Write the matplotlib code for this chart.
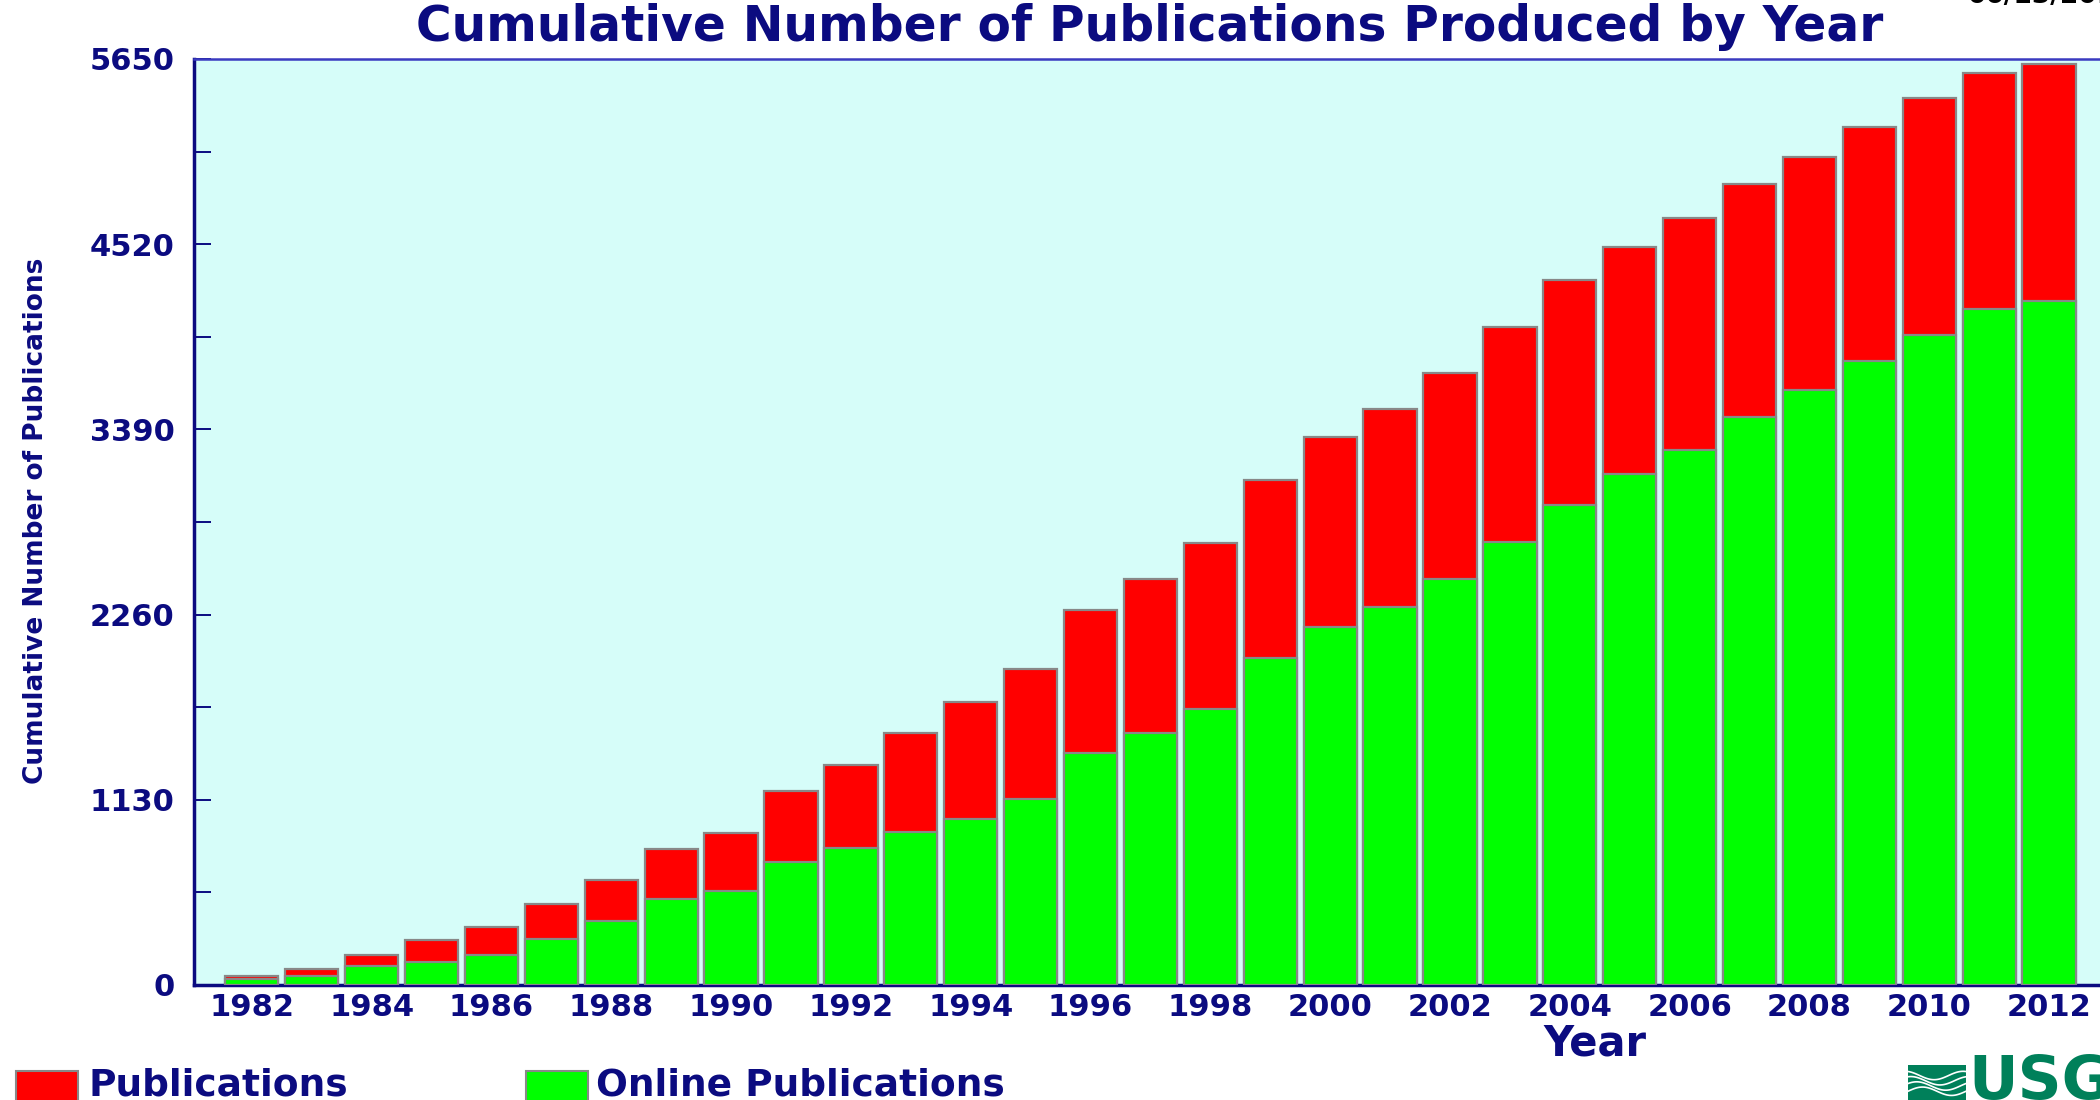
import matplotlib
matplotlib.use("Agg")
import matplotlib.pyplot as plt
import numpy as np
from matplotlib.patches import Rectangle

years = list(range(1982, 2013))
publications = [55, 95, 185, 272, 356, 495, 640, 830, 928, 1186, 1341, 1537, 1725, 1930,
                2289, 2478, 2698, 3083, 3344, 3516, 3737, 4015, 4301, 4505, 4677, 4890,
                5053, 5233, 5410, 5565, 5618]
online = [35, 55, 118, 143, 185, 280, 390, 527, 574, 752, 834, 932, 1014, 1137,
          1415, 1537, 1684, 1995, 2183, 2306, 2478, 2706, 2927, 3115, 3262, 3467,
          3630, 3810, 3966, 4125, 4175]
yticks = [0, 1130, 2260, 3390, 4520, 5650]
xtick_years = list(range(1982, 2013, 2))

NAVY = "#0b0b80"
W, H = 2100, 1100
fig = plt.figure(figsize=(21, 11), dpi=100)
fig.patch.set_facecolor("white")

ax_l, ax_r, ax_b, ax_t = 194, 2120, 985, 59
ax = fig.add_axes([ax_l / W, 1 - ax_b / H, (ax_r - ax_l) / W, (ax_b - ax_t) / H])
ax.set_facecolor("#d6fdf9")

spacing = 59.91
x0 = 1982 - (251.8 - ax_l) / spacing
x1 = 1982 + (ax_r - 251.8) / spacing
ax.set_xlim(x0, x1)
ax.set_ylim(0, 5650)

ax.bar(years, publications, width=0.89, color="#ff0000", edgecolor="#888888", linewidth=1.6, zorder=2)
ax.bar(years, online, width=0.89, color="#00ff00", edgecolor="#888888", linewidth=1.6, zorder=3)

for s in ["left", "bottom"]:
    ax.spines[s].set_color(NAVY)
    ax.spines[s].set_linewidth(2.5)
ax.spines["top"].set_color("#3a3ac0")
ax.spines["top"].set_linewidth(1.8)
ax.spines["right"].set_visible(False)

ax.set_yticks(yticks)
ax.set_yticks(np.arange(565, 5650, 1130), minor=True)
ax.set_yticklabels([str(v) for v in yticks])
ax.tick_params(axis="y", which="both", direction="in", length=12, width=1.4,
               colors=NAVY, pad=14, labelsize=22)
ax.set_xticks(xtick_years)
ax.set_xticklabels([str(y) for y in xtick_years])
ax.tick_params(axis="x", length=0, colors=NAVY, pad=6, labelsize=22)
for lab in ax.get_xticklabels() + ax.get_yticklabels():
    lab.set_fontweight("bold")
    lab.set_color(NAVY)

fig.text(1150 / W, 1 - 27 / H, "Cumulative Number of Publications Produced by Year",
         ha="center", va="center", fontsize=35, fontweight="bold", color=NAVY)
fig.text(36 / W, 1 - 521 / H, "Cumulative Number of Publications", rotation=90,
         ha="center", va="center", fontsize=19, color=NAVY, fontweight="bold")
fig.text(1595 / W, 1 - 1044 / H, "Year", ha="center", va="center",
         fontsize=30, fontweight="bold", color=NAVY)
fig.text(1968 / W, 1 - 9 / H, "06/13/2013", ha="left", va="bottom",
         fontsize=19, fontweight="bold", color="black")

# legend
legend_items = [("Publications", "#ff0000", 16, 88), ("Online Publications", "#00ff00", 526, 596)]
for label, col, bx, tx in legend_items:
    fig.patches.append(Rectangle((bx / W, 1 - 1105 / H), 62 / W, 34 / H, transform=fig.transFigure,
                                 facecolor=col, edgecolor="#888888", linewidth=1.5))
    fig.text(tx / W, 1 - 1085 / H, label, ha="left", va="center", fontsize=27,
             fontweight="bold", color=NAVY)

# USGS logo
logo = fig.add_axes([1908 / W, 0, 58 / W, 35 / H])
t = np.linspace(0, 1, 50)
for k in range(4):
    logo.plot(t, 0.25 + 0.15 * k + 0.12 * np.sin(2 * np.pi * (t + 0.1 * k)), color="white", lw=1.2)
logo.set_xlim(0, 1)
logo.set_ylim(0, 1)
logo.axis("off")
logo.add_patch(Rectangle((0, 0), 1, 1, facecolor="#00805a", zorder=0))
fig.text(1968 / W, 1 - 1082 / H, "USGS", ha="left", va="center", fontsize=44,
         fontweight="bold", color="#00805a")

fig.savefig("out.png", dpi=100)
